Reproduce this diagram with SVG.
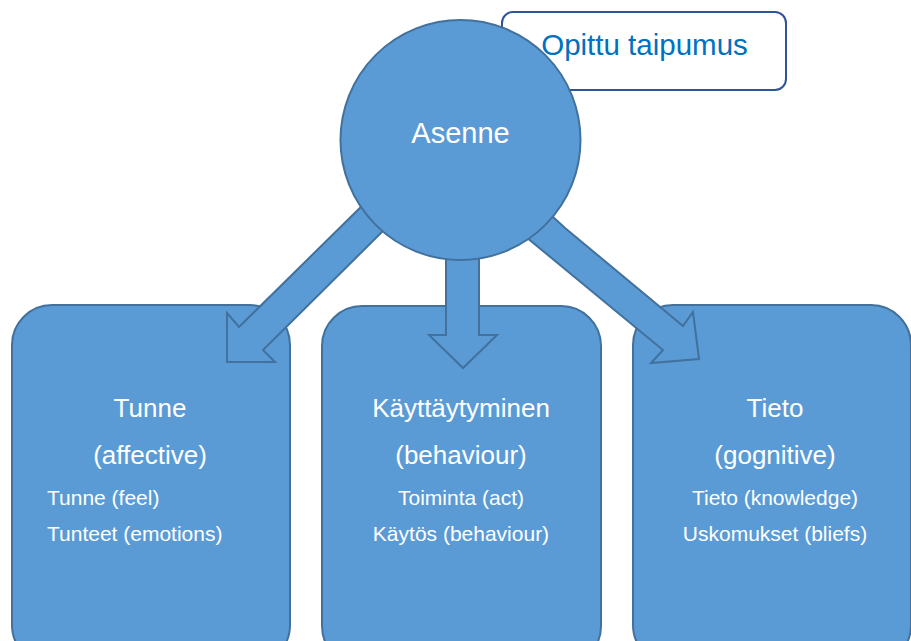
<svg xmlns="http://www.w3.org/2000/svg" width="911" height="641" viewBox="0 0 911 641">
  <style>
    .shape { fill: #5b9bd5; stroke: #41719c; stroke-width: 2; stroke-linejoin: miter; }
    .callout { fill: #ffffff; stroke: #2f5597; stroke-width: 2; }
    text { font-family: "Liberation Sans", Arial, sans-serif; text-anchor: middle; }
    .big { font-size: 29px; fill: #ffffff; }
    .callout-text { font-size: 29.5px; fill: #0070c0; }
    .label { font-size: 26px; fill: #ffffff; }
    .small { font-size: 21px; fill: #ffffff; }
    .left { text-anchor: start; }
  </style>

  <!-- callout box behind the central circle -->
  <g id="opittu-taipumus">
    <rect class="callout" x="502" y="12" width="284" height="78" rx="11" ry="11"/>
    <text class="callout-text" x="644.5" y="55">Opittu taipumus</text>
  </g>

  <!-- three component boxes -->
  <g id="tunne">
    <rect class="shape" x="12" y="305" width="278" height="360" rx="40" ry="40"/>
    <text class="label" x="150" y="417">Tunne</text>
    <text class="label" x="150" y="464">(affective)</text>
    <text class="small left" x="47" y="505">Tunne (feel)</text>
    <text class="small left" x="47" y="541">Tunteet (emotions)</text>
  </g>

  <g id="kayttaytyminen">
    <rect class="shape" x="322" y="306" width="279" height="360" rx="40" ry="40"/>
    <text class="label" x="461" y="417">Käyttäytyminen</text>
    <text class="label" x="461" y="464">(behaviour)</text>
    <text class="small" x="461" y="505">Toiminta (act)</text>
    <text class="small" x="461" y="541">Käytös (behaviour)</text>
  </g>

  <g id="tieto">
    <rect class="shape" x="633" y="305" width="278" height="360" rx="40" ry="40"/>
    <text class="label" x="775" y="417">Tieto</text>
    <text class="label" x="775" y="464">(gognitive)</text>
    <text class="small" x="775" y="505">Tieto (knowledge)</text>
    <text class="small" x="775" y="541">Uskomukset (bliefs)</text>
  </g>

  <!-- block arrows from the circle to each box -->
  <g id="connectors">
    <polygon class="shape" points="370,198 392,222 263,350 275,362 227,362 227,313 239,327"/>
    <polygon class="shape" points="446,240 479,240 479,335 497,335 463,368 429,335 446,335"/>
    <polygon class="shape" points="540,205 565,228 683,326 693,312 699,359 651,363 663,350 520,232"/>
  </g>

  <!-- central concept -->
  <g id="asenne">
    <circle class="shape" cx="460.5" cy="140" r="120"/>
    <text class="big" x="460.5" y="143">Asenne</text>
  </g>
</svg>
